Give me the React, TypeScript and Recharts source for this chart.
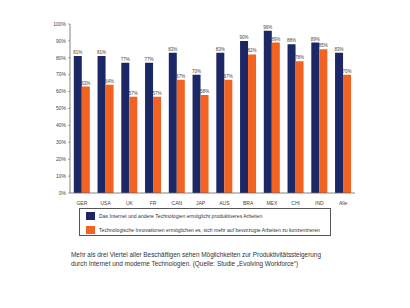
import React from 'react';
import { BarChart, Bar, XAxis, YAxis, LabelList } from 'recharts';

const countries = ['GER', 'USA', 'UK', 'FR', 'CAN', 'JAP', 'AUS', 'BRA', 'MEX', 'CHI', 'IND', 'Alle'];
const productive = [81, 81, 77, 77, 83, 70, 83, 90, 96, 88, 89, 83];
const preferred = [63, 64, 57, 57, 67, 58, 67, 82, 89, 78, 85, 70];
const yTicks = [0, 10, 20, 30, 40, 50, 60, 70, 80, 90, 100];

const seriesNames = [
  'Das Internet und andere Technologien ermöglicht produktiveres Arbeiten',
  'Technologische Innovationen ermöglichen es, sich mehr auf bevorzugte Arbeiten zu konzentrieren',
];
const captionLines = [
  'Mehr als drei Viertel aller Beschäftigen sehen Möglichkeiten zur Produktivitätssteigerung',
  'durch Internet und moderne Technologien. (Quelle: Studie „Evolving Workforce“)',
];

const NAVY = '#1c2766';
const ORANGE = '#f26322';
const FONT = '"Liberation Sans", Arial, sans-serif';

const data = countries.map((name, i) => ({ name, a: productive[i], b: preferred[i] }));

const pct = (v: any) => `${v}%`;

export default function App() {
  return (
    <div style={{ position: 'absolute', left: 0, top: 0, width: 410, height: 308, background: '#fff', fontFamily: FONT }}>
      <BarChart
        width={410}
        height={210}
        data={data}
        margin={{ top: 24, right: 55, left: 40, bottom: 5 }}
        barCategoryGap="16%"
        barGap={0}
      >
        <XAxis
          dataKey="name"
          height={12}
          axisLine={{ stroke: '#666', strokeWidth: 0.8 }}
          tickLine={false}
          tick={{ fill: '#444', fontSize: 5, fontFamily: FONT }}
          interval={0}
        />
        <YAxis
          width={30}
          domain={[0, 100]}
          ticks={yTicks}
          tickFormatter={pct}
          axisLine={{ stroke: '#666', strokeWidth: 0.8 }}
          tickLine={{ stroke: '#666', strokeWidth: 0.6 }}
          tickSize={2}
          tick={{ fill: '#444', fontSize: 5, fontFamily: FONT }}
          interval={0}
        />
        <Bar dataKey="a" fill={NAVY} isAnimationActive={false}>
          <LabelList dataKey="a" position="top" offset={2} formatter={pct} style={{ fill: '#444', fontSize: 4.5, fontFamily: FONT }} />
        </Bar>
        <Bar dataKey="b" fill={ORANGE} isAnimationActive={false}>
          <LabelList dataKey="b" position="top" offset={2} formatter={pct} style={{ fill: '#444', fontSize: 4.5, fontFamily: FONT }} />
        </Bar>
      </BarChart>
      <div
        style={{
          position: 'absolute',
          left: 79,
          top: 208,
          width: 252,
          height: 28,
          border: '0.8px solid #555',
          boxSizing: 'border-box',
        }}
      >
        {seriesNames.map((s, i) => (
          <div key={s} style={{ position: 'absolute', left: 6, top: 3 + i * 13.5, display: 'flex', alignItems: 'center' }}>
            <div style={{ width: 9, height: 8, background: i === 0 ? NAVY : ORANGE }} />
            <span style={{ marginLeft: 4, fontSize: 5.1, color: '#333', whiteSpace: 'nowrap' }}>{s}</span>
          </div>
        ))}
      </div>
      <div
        style={{
          position: 'absolute',
          left: 71,
          top: 251,
          fontSize: 6.4,
          lineHeight: '8.5px',
          color: '#333',
          whiteSpace: 'nowrap',
        }}
      >
        {captionLines.map((l) => (
          <div key={l}>{l}</div>
        ))}
      </div>
    </div>
  );
}
